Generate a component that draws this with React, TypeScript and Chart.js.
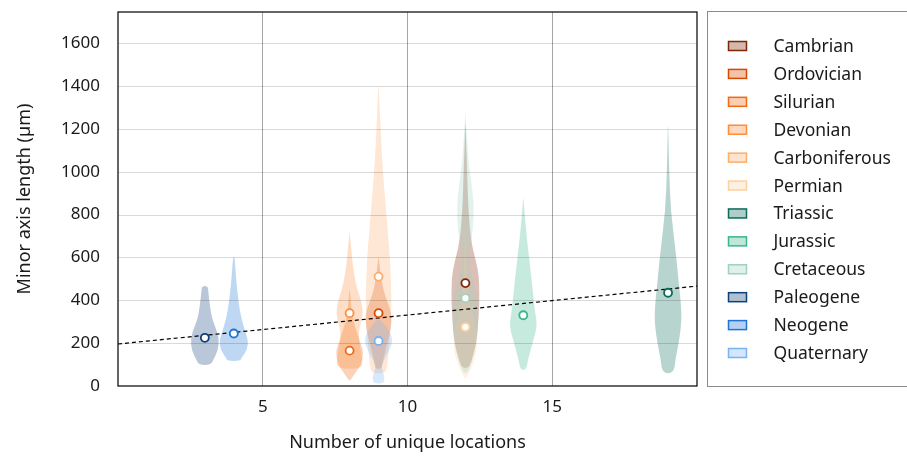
import React, { useEffect, useRef } from 'react';
import { Chart, registerables } from 'chart.js';

Chart.register(...registerables);

const FONT = '"Noto Sans", "DejaVu Sans", sans-serif';

// ---------- data ----------
const periods = [
  'Cambrian', 'Ordovician', 'Silurian', 'Devonian', 'Carboniferous', 'Permian',
  'Triassic', 'Jurassic', 'Cretaceous', 'Paleogene', 'Neogene', 'Quaternary',
];
const periodColors = [
  '#7f2704', '#d94801', '#f16913', '#fd8d3c', '#fdae6b', '#fdd0a2',
  '#0b6b5a', '#3bb58d', '#9fd3bf', '#0d3f7a', '#1f74d6', '#79b3f2',
];
// number of unique locations for each period's violin
const locationCounts = [12, 9, 8, 8, 9, 12, 19, 14, 12, 3, 4, 9];
// central value (white marker) for each period, µm
const centralValues = [480, 340, 165, 340, 510, 275, 435, 330, 410, 225, 245, 210];
// violin outlines: value levels (µm) and density half-widths (x units)
const violinLevels: number[][] = [
  [84, 107, 200, 322, 434, 541, 666, 821, 1000, 1120, 1225],
  [80, 110, 180, 260, 340, 420, 500, 560, 603],
  [25, 60, 100, 140, 170, 210, 260, 310, 360, 420, 450],
  [80, 120, 180, 250, 300, 340, 390, 450, 540, 630, 720],
  [60, 90, 183, 340, 494, 650, 830, 984, 1140, 1300, 1405],
  [35, 80, 150, 220, 280, 350, 450, 600, 720],
  [60, 121, 200, 322, 480, 620, 821, 1000, 1218],
  [75, 121, 200, 285, 355, 509, 667, 780, 877],
  [60, 90, 168, 277, 434, 520, 588, 666, 790, 900, 1050, 1275],
  [98, 121, 168, 224, 280, 323, 400, 440, 466],
  [117, 130, 168, 214, 277, 354, 480, 560, 603],
  [12, 25, 45, 70, 95, 140, 180, 215, 250, 290, 310],
];
const violinHalfWidths: number[][] = [
  [0.1, 0.19, 0.38, 0.46, 0.49, 0.45, 0.2, 0.1, 0.06, 0.03, 0.005],
  [0.1, 0.14, 0.26, 0.43, 0.46, 0.22, 0.09, 0.04, 0.005],
  [0.01, 0.2, 0.4, 0.46, 0.46, 0.35, 0.23, 0.12, 0.06, 0.03, 0.005],
  [0.42, 0.45, 0.36, 0.3, 0.4, 0.46, 0.42, 0.26, 0.13, 0.06, 0.005],
  [0.22, 0.3, 0.36, 0.45, 0.43, 0.37, 0.25, 0.16, 0.09, 0.04, 0.005],
  [0.01, 0.2, 0.38, 0.42, 0.35, 0.2, 0.08, 0.04, 0.005],
  [0.2, 0.25, 0.37, 0.49, 0.37, 0.27, 0.09, 0.04, 0.005],
  [0.1, 0.16, 0.32, 0.49, 0.39, 0.28, 0.14, 0.06, 0.005],
  [0.05, 0.17, 0.34, 0.46, 0.4, 0.2, 0.1, 0.2, 0.3, 0.26, 0.1, 0.005],
  [0.2, 0.29, 0.46, 0.49, 0.35, 0.23, 0.15, 0.12, 0.1],
  [0.23, 0.26, 0.46, 0.5, 0.34, 0.2, 0.09, 0.05, 0.02],
  [0.15, 0.2, 0.2, 0.14, 0.1, 0.26, 0.42, 0.49, 0.4, 0.2, 0.05],
];
// linear trend line
const trendX = [0, 20];
const trendY = [196, 466];

const xTicksShown = [5, 10, 15];
const FILL_ALPHA = 0.29;

function rgba(hex: string, a: number) {
  const n = parseInt(hex.slice(1), 16);
  return `rgba(${(n >> 16) & 255},${(n >> 8) & 255},${n & 255},${a})`;
}

const violinPlugin = {
  id: 'violins',
  beforeDatasetsDraw(chart: any) {
    const { ctx, chartArea, scales } = chart;
    const xs = scales.x;
    const ys = scales.y;
    ctx.save();
    ctx.beginPath();
    ctx.rect(chartArea.left, chartArea.top, chartArea.width, chartArea.height);
    ctx.clip();
    periods.forEach((_, i) => {
      const cx = locationCounts[i];
      const lv = violinLevels[i];
      const hw = violinHalfWidths[i];
      const pts: [number, number][] = [];
      for (let k = 0; k < lv.length; k++) pts.push([xs.getPixelForValue(cx + hw[k]), ys.getPixelForValue(lv[k])]);
      for (let k = lv.length - 1; k >= 0; k--) pts.push([xs.getPixelForValue(cx - hw[k]), ys.getPixelForValue(lv[k])]);
      ctx.beginPath();
      const n = pts.length;
      const mid = (a: [number, number], b: [number, number]) => [(a[0] + b[0]) / 2, (a[1] + b[1]) / 2];
      const start = mid(pts[n - 1], pts[0]);
      ctx.moveTo(start[0], start[1]);
      for (let k = 0; k < n; k++) {
        const p = pts[k];
        const m = mid(p, pts[(k + 1) % n]);
        ctx.quadraticCurveTo(p[0], p[1], m[0], m[1]);
      }
      ctx.closePath();
      ctx.fillStyle = rgba(periodColors[i], FILL_ALPHA);
      ctx.fill();
    });
    // horizontal grid drawn over the violins
    ctx.lineWidth = 1;
    ctx.strokeStyle = 'rgba(0,0,0,0.15)';
    ys.ticks.forEach((t: any) => {
      if (t.value <= 0) return;
      const py = Math.round(ys.getPixelForValue(t.value)) + 0.5;
      ctx.beginPath();
      ctx.moveTo(chartArea.left, py);
      ctx.lineTo(chartArea.right, py);
      ctx.stroke();
    });
    ctx.restore();
  },
  afterDatasetsDraw(chart: any) {
    const { ctx, chartArea } = chart;
    ctx.save();
    ctx.strokeStyle = '#000';
    ctx.lineWidth = 1.2;
    ctx.strokeRect(chartArea.left, chartArea.top, chartArea.width, chartArea.height);
    ctx.restore();
  },
};

const legendPlugin = {
  id: 'boxLegend',
  afterDraw(chart: any) {
    const { ctx, chartArea } = chart;
    const left = chartArea.right + 10.5;
    const top = chartArea.top - 0.5;
    const bottom = chartArea.bottom + 0.5;
    ctx.save();
    ctx.strokeStyle = '#8a8a8a';
    ctx.lineWidth = 1;
    ctx.strokeRect(left, top, 240, bottom - top);
    const step = (bottom - top - 68) / (periods.length - 1);
    ctx.font = `17.5px ${FONT}`;
    ctx.textBaseline = 'middle';
    ctx.textAlign = 'left';
    periods.forEach((name, i) => {
      const cy = top + 34.5 + i * step;
      ctx.fillStyle = rgba(periodColors[i], FILL_ALPHA + 0.04);
      ctx.fillRect(left + 21, cy - 4.5, 18, 9);
      ctx.strokeStyle = periodColors[i];
      ctx.lineWidth = 1.5;
      ctx.strokeRect(left + 21, cy - 4.5, 18, 9);
      ctx.fillStyle = '#1a1a1a';
      ctx.fillText(name, left + 66, cy + 1);
    });
    ctx.restore();
  },
};

export default function App() {
  const canvasRef = useRef<HTMLCanvasElement | null>(null);

  useEffect(() => {
    document.body.style.margin = '0';
    const canvas = canvasRef.current;
    if (!canvas) return;

    const markerSets = periods.map((name, i) => ({
      type: 'scatter' as const,
      label: name,
      data: [{ x: locationCounts[i], y: centralValues[i] }],
      pointRadius: 4,
      pointHoverRadius: 4,
      borderWidth: 1.8,
      borderColor: periodColors[i],
      backgroundColor: '#ffffff',
      order: 0,
    }));

    const chart = new Chart(canvas, {
      type: 'scatter',
      data: {
        datasets: [
          ...markerSets,
          {
            type: 'line' as const,
            label: 'trend',
            data: trendX.map((x, k) => ({ x, y: trendY[k] })),
            borderColor: '#000',
            borderWidth: 1.2,
            borderDash: [4, 3],
            pointRadius: 0,
            fill: false,
            order: 1,
          },
        ],
      },
      options: {
        responsive: false,
        animation: false,
        layout: { padding: { left: 0, right: 210, top: 12, bottom: 0 } },
        plugins: {
          legend: { display: false },
          tooltip: { enabled: false },
        },
        scales: {
          x: {
            type: 'linear',
            min: 0,
            max: 20,
            border: { display: false },
            afterFit: (s: any) => {
              s.height = 71;
              s.paddingLeft = 0;
              s.paddingRight = 0;
            },
            ticks: {
              stepSize: 5,
              padding: 11,
              color: '#1a1a1a',
              font: { family: FONT, size: 17 },
              maxRotation: 0,
              callback: (v: any) => (xTicksShown.includes(Number(v)) ? String(v) : ''),
            },
            grid: {
              drawTicks: false,
              lineWidth: 1,
              color: (c: any) =>
                c.tick && xTicksShown.includes(c.tick.value) ? 'rgba(0,0,0,0.35)' : 'rgba(0,0,0,0)',
            },
            title: {
              display: true,
              text: 'Number of unique locations',
              color: '#1a1a1a',
              font: { family: FONT, size: 18 },
              padding: { top: 0, bottom: 3 },
            },
          },
          y: {
            type: 'linear',
            min: 0,
            max: 1745,
            border: { display: false },
            afterFit: (s: any) => {
              s.width = 118;
              s.paddingTop = 0;
              s.paddingBottom = 0;
            },
            ticks: {
              stepSize: 200,
              includeBounds: false,
              padding: 18,
              color: '#1a1a1a',
              font: { family: FONT, size: 17 },
              callback: (v: any) => String(v),
            },
            grid: { display: false, drawTicks: false },
            title: {
              display: true,
              text: 'Minor axis length (µm)',
              color: '#1a1a1a',
              font: { family: FONT, size: 18 },
              padding: { top: 14, bottom: 0 },
            },
          },
        },
      },
      plugins: [violinPlugin, legendPlugin],
    } as any);

    return () => chart.destroy();
  }, []);

  return (
    <div style={{ width: 907, height: 457 }}>
      <canvas ref={canvasRef} width={907} height={457} />
    </div>
  );
}
